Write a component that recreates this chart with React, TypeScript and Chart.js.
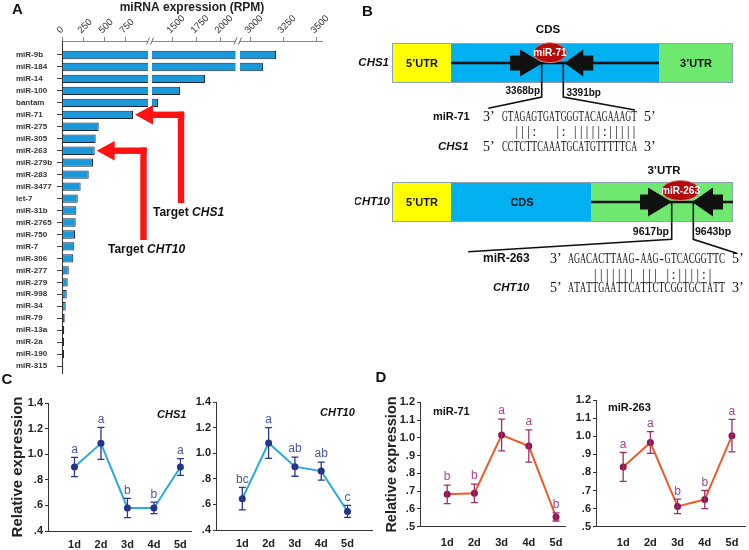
import React, { useEffect, useRef } from 'react';
import { Chart, registerables } from 'chart.js';

Chart.register(...registerables);

const SANS = 'Arial, "Liberation Sans", Helvetica, sans-serif';
const SERIF = '"Times New Roman", "Liberation Serif", serif';

// ---------- Panel A data ----------
const mirnaNames = ['miR-9b', 'miR-184', 'miR-14', 'miR-100', 'bantam', 'miR-71', 'miR-275', 'miR-305', 'miR-263', 'miR-279b', 'miR-283', 'miR-3477', 'let-7', 'miR-31b', 'miR-2765', 'miR-750', 'miR-7', 'miR-306', 'miR-277', 'miR-279', 'miR-998', 'miR-34', 'miR-79', 'miR-13a', 'miR-2a', 'miR-190', 'miR-315'];
const mirnaRPM = [3197, 3098, 1844, 1583, 1354, 845, 437, 401, 389, 369, 318, 222, 187, 170, 163, 155, 146, 134, 80, 68, 56, 44, 32, 27, 24, 24, 15];
const rpmTickValues = [0, 250, 500, 750, 1500, 1750, 2000, 3000, 3250, 3500];
const rpmTickLabels = ['0', '250', '500', '750', '1500', '1750', '2000', '3000', '3250', '3500'];

// ---------- Panel C / D data ----------
const days = ['1d', '2d', '3d', '4d', '5d'];
const chs1Mean = [0.9, 1.085, 0.58, 0.58, 0.9];
const chs1Err = [0.075, 0.125, 0.075, 0.045, 0.065];
const chs1Sig = ['a', 'a', 'b', 'b', 'a'];
const cht10Mean = [0.645, 1.08, 0.895, 0.86, 0.545];
const cht10Err = [0.088, 0.12, 0.075, 0.07, 0.047];
const cht10Sig = ['bc', 'a', 'ab', 'ab', 'c'];
const mir71Mean = [0.682, 0.688, 1.016, 0.954, 0.555];
const mir71Err = [0.052, 0.052, 0.089, 0.091, 0.023];
const mir71Sig = ['b', 'b', 'a', 'a', 'b'];
const mir263Mean = [0.83, 0.965, 0.612, 0.65, 1.003];
const mir263Err = [0.08, 0.06, 0.04, 0.05, 0.09];
const mir263Sig = ['a', 'a', 'b', 'b', 'a'];
const geneTicks = [0.4, 0.6, 0.8, 1.0, 1.2, 1.4];
const geneTickLabels = ['.4', '.6', '.8', '1.0', '1.2', '1.4'];
const mirTicks = [0.5, 0.6, 0.7, 0.8, 0.9, 1.0, 1.1, 1.2];
const mirTickLabels = ['.5', '.6', '.7', '.8', '.9', '1.0', '1.1', '1.2'];

// ---------- Panel B sequences ----------
const mir71Seq = 'GTAGAGTGATGGGTACAGAAAGT';
const chs1Seq = 'CCTCTTCAAATGCATGTTTTTCA';
const pair71 = '  |||:   |: |||||:|||||';
const mir263Seq = 'AGACACTTAAG-AAG-GTCACGGTTC';
const cht10Seq = 'ATATTGAATTCATTCTCGGTGCTATT';
const pair263 = '    ||||||| ||| |:||||:|  ';

// broken axis mapping (RPM -> axis units)
function toAxis(v: number): number {
  if (v <= 1100) return v * 0.084;
  if (v <= 2200) return 110 + (v - 1500) * 0.096;
  return 188 + (v - 3000) * 0.132;
}
const axisBreaks = [[86, 90], [173.5, 178]];

const A_W = 355, A_H = 380;
const B_LEFT = 355, B_W = 394, B_H = 300;
const LINE_TOP = 370, LINE_H = 180;

function txt(ctx: any, s: string, x: number, y: number, font: string, color: string, align: string = 'left') {
  ctx.font = font;
  ctx.fillStyle = color;
  ctx.textAlign = align;
  ctx.textBaseline = 'middle';
  ctx.fillText(s, x, y);
}

const RED = '#ff1212';

const aPlugin = {
  id: 'aDecor',
  afterDatasetsDraw(chart: any) {
    const { ctx, chartArea } = chart;
    const xs = chart.scales.x;
    const ys = chart.scales.y;
    ctx.save();
    for (const [d0, d1] of axisBreaks) {
      const x0 = xs.getPixelForValue(d0);
      const x1 = xs.getPixelForValue(d1);
      ctx.fillStyle = '#ffffff';
      ctx.fillRect(x0, chartArea.top - 4, x1 - x0, chartArea.bottom - chartArea.top + 4);
      ctx.strokeStyle = '#666';
      ctx.lineWidth = 1;
      ctx.beginPath();
      for (const x of [x0, x1]) {
        ctx.moveTo(x - 1.5, chartArea.top + 3.5);
        ctx.lineTo(x + 1.5, chartArea.top - 3.5);
      }
      ctx.stroke();
    }
    const arrows = [
      { name: 'miR-71', vx: 181, vy: 203, gene: 'CHS1', tx: 153, ty: 213 },
      { name: 'miR-263', vx: 143.5, vy: 240, gene: 'CHT10', tx: 108, ty: 250 },
    ];
    for (const a of arrows) {
      const idx = mirnaNames.indexOf(a.name);
      const y = ys.getPixelForValue(idx);
      const tip = xs.getPixelForValue(toAxis(mirnaRPM[idx])) + 2;
      ctx.fillStyle = RED;
      ctx.beginPath();
      ctx.moveTo(tip, y);
      ctx.lineTo(tip + 18, y - 9.7);
      ctx.lineTo(tip + 18, y + 9.7);
      ctx.closePath();
      ctx.fill();
      ctx.fillRect(tip + 17, y - 3.2, a.vx + 3.2 - (tip + 17), 6.4);
      ctx.fillRect(a.vx - 3.2, y - 3.2, 6.4, a.vy - (y - 3.2));
      txt(ctx, 'Target ', a.tx, a.ty, `bold 12px ${SANS}`, '#111');
      const w = ctx.measureText('Target ').width;
      txt(ctx, a.gene, a.tx + w, a.ty, `italic bold 12px ${SANS}`, '#111');
    }
    txt(ctx, 'A', 17.5, 10, `bold 15px ${SANS}`, '#111', 'center');
    ctx.restore();
  },
};

function bigArrow(ctx: any, tipX: number, baseX: number, rectEndX: number, cy: number, triH: number, rectH: number) {
  ctx.beginPath();
  ctx.moveTo(tipX, cy);
  ctx.lineTo(baseX, cy - triH);
  ctx.lineTo(baseX, cy - rectH);
  ctx.lineTo(rectEndX, cy - rectH);
  ctx.lineTo(rectEndX, cy + rectH);
  ctx.lineTo(baseX, cy + rectH);
  ctx.lineTo(baseX, cy + triH);
  ctx.closePath();
  ctx.fill();
}

function seqRow(ctx: any, seq: string, x0: number, cw: number, y: number, font: string, color: string) {
  ctx.font = font;
  ctx.fillStyle = color;
  ctx.textAlign = 'center';
  ctx.textBaseline = 'middle';
  for (let i = 0; i < seq.length; i++) {
    if (seq[i] === ' ') continue;
    ctx.fillText(seq[i], x0 + (i + 0.5) * cw, y, cw);
  }
}

function construct(ctx: any, y0: number, y1: number, segs: [number, number, string][]) {
  for (const [a, b, c] of segs) {
    ctx.fillStyle = c;
    ctx.fillRect(a, y0, b - a, y1 - y0);
  }
  ctx.strokeStyle = '#8ea3b8';
  ctx.lineWidth = 1;
  ctx.strokeRect(segs[0][0] + 0.5, y0 + 0.5, segs[segs.length - 1][1] - segs[0][0] - 1, y1 - y0 - 1);
}

function ellipseLabel(ctx: any, cx: number, cy: number, rx: number, ry: number, s: string) {
  ctx.beginPath();
  ctx.ellipse(cx, cy, rx, ry, 0, 0, Math.PI * 2);
  ctx.fillStyle = '#b30b0b';
  ctx.fill();
  ctx.strokeStyle = '#d98080';
  ctx.lineWidth = 1;
  ctx.stroke();
  txt(ctx, s, cx, cy + 0.5, `bold 10px ${SANS}`, '#ffffff', 'center');
}

function polyline(ctx: any, pts: number[][], w: number) {
  ctx.strokeStyle = '#111';
  ctx.lineWidth = w;
  ctx.beginPath();
  ctx.moveTo(pts[0][0], pts[0][1]);
  for (let i = 1; i < pts.length; i++) ctx.lineTo(pts[i][0], pts[i][1]);
  ctx.stroke();
}

function drawB(ctx: any) {
  const YEL = '#ffff00', BLU = '#00b0f0', GRN = '#6fe86f';
  const INK = '#111';
  txt(ctx, 'B', 367.5, 12, `bold 15px ${SANS}`, INK, 'center');

  // ---- construct 1: CHS1 ----
  txt(ctx, 'CDS', 548, 30, `bold 11.5px ${SANS}`, INK, 'center');
  construct(ctx, 43, 83, [[392, 451, YEL], [451, 659, BLU], [659, 733, GRN]]);
  txt(ctx, 'CHS1', 389, 63, `italic bold 11.5px ${SANS}`, INK, 'right');
  txt(ctx, '5’UTR', 422, 63.5, `bold 11px ${SANS}`, INK, 'center');
  txt(ctx, '3’UTR', 696, 63.5, `bold 11px ${SANS}`, INK, 'center');
  polyline(ctx, [[451, 63], [659, 63]], 2.5);
  ctx.fillStyle = INK;
  bigArrow(ctx, 542.7, 520, 510, 63, 13.5, 7.5);
  bigArrow(ctx, 564.3, 583.3, 593.3, 63, 13.5, 7.5);
  polyline(ctx, [[541.7, 63], [541.7, 97], [488.3, 108.3]], 1.6);
  polyline(ctx, [[563.3, 63], [563.3, 97], [635, 110]], 1.6);
  ellipseLabel(ctx, 550, 52.7, 16.5, 10, 'miR-71');
  txt(ctx, '3368bp', 540, 91, `bold 10px ${SANS}`, INK, 'right');
  txt(ctx, '3391bp', 566.5, 93, `bold 10px ${SANS}`, INK, 'left');

  const cw1 = 135 / mir71Seq.length;
  txt(ctx, 'miR-71', 433, 117, `bold 11px ${SANS}`, INK);
  txt(ctx, '3’', 483, 117, `14px ${SERIF}`, INK);
  seqRow(ctx, mir71Seq, 502, cw1, 117.5, `14px ${SERIF}`, INK);
  txt(ctx, '5’', 644, 117, `14px ${SERIF}`, INK);
  seqRow(ctx, pair71, 502, cw1, 132.5, `15px ${SERIF}`, '#333');
  txt(ctx, 'CHS1', 438, 147, `italic bold 11.5px ${SANS}`, INK);
  txt(ctx, '5’', 483, 147, `14px ${SERIF}`, INK);
  seqRow(ctx, chs1Seq, 502, cw1, 147.5, `14px ${SERIF}`, INK);
  txt(ctx, '3’', 644, 147, `14px ${SERIF}`, INK);

  // ---- construct 2: CHT10 ----
  txt(ctx, '3’UTR', 664, 171, `bold 11.5px ${SANS}`, INK, 'center');
  construct(ctx, 182, 222, [[392, 451, YEL], [451, 591, BLU], [591, 733, GRN]]);
  txt(ctx, 'CHT10', 390, 202, `italic bold 11.5px ${SANS}`, INK, 'right');
  txt(ctx, '5’UTR', 422, 202.5, `bold 11px ${SANS}`, INK, 'center');
  txt(ctx, 'CDS', 522, 202.5, `bold 11px ${SANS}`, INK, 'center');
  polyline(ctx, [[591, 202], [733, 202]], 2.5);
  ctx.fillStyle = INK;
  bigArrow(ctx, 672, 648, 640, 202, 14.5, 7.5);
  bigArrow(ctx, 692, 713, 723, 202, 14.5, 7.5);
  polyline(ctx, [[671.7, 202], [671.7, 239.3], [468.3, 251.7]], 1.6);
  polyline(ctx, [[693.3, 202], [693.3, 239.3], [736.7, 253.3]], 1.6);
  ellipseLabel(ctx, 680.5, 190.5, 19, 10, 'miR-263');
  txt(ctx, '9617bp', 669, 232, `bold 10.5px ${SANS}`, INK, 'right');
  txt(ctx, '9643bp', 695, 232, `bold 10.5px ${SANS}`, INK, 'left');

  const cw2 = 157 / mir263Seq.length;
  txt(ctx, 'miR-263', 483, 259, `bold 12px ${SANS}`, INK);
  txt(ctx, '3’', 550, 259, `14px ${SERIF}`, INK);
  seqRow(ctx, mir263Seq, 568, cw2, 259.5, `14px ${SERIF}`, INK);
  txt(ctx, '5’', 732, 259, `14px ${SERIF}`, INK);
  seqRow(ctx, pair263, 568, cw2, 275.5, `15px ${SERIF}`, '#333');
  txt(ctx, 'CHT10', 493, 288, `italic bold 11.5px ${SANS}`, INK);
  txt(ctx, '5’', 550, 288, `14px ${SERIF}`, INK);
  seqRow(ctx, cht10Seq, 568, cw2, 288.5, `14px ${SERIF}`, INK);
  txt(ctx, '3’', 732, 288, `14px ${SERIF}`, INK);
}

const bPlugin = {
  id: 'bDiagram',
  afterDraw(chart: any) {
    const ctx = chart.ctx;
    ctx.save();
    ctx.translate(-B_LEFT, 0);
    drawB(ctx);
    ctx.restore();
  },
};

type LineSpec = {
  left: number; width: number;
  mean: number[]; err: number[]; sig: string[];
  yMin: number; yMax: number; yTicks: number[]; yTickLabels: string[];
  xMax: number; padTop: number; padRight: number; yWidth: number; xHeight: number; xTickPad: number;
  title?: string; titlePad?: number; titleSize?: number;
  tag: string; tagItalic: boolean; tagX: number; tagY: number;
  panel?: string; panelX?: number; panelY?: number;
  lineColor: string; pointColor: string; errColor: string; sigColor: string;
};

const lineSpecs: LineSpec[] = [
  {
    left: 0, width: 196, mean: chs1Mean, err: chs1Err, sig: chs1Sig,
    yMin: 0.4, yMax: 1.4, yTicks: geneTicks, yTickLabels: geneTickLabels,
    xMax: 5.4, padTop: 33, padRight: 5, yWidth: 48, xHeight: 19, xTickPad: 7.5,
    title: 'Relative expression', titlePad: 9, titleSize: 15,
    tag: 'CHS1', tagItalic: true, tagX: 157, tagY: 415,
    panel: 'C', panelX: 7, panelY: 380,
    lineColor: '#2aa8e0', pointColor: '#26318a', errColor: '#2c3590', sigColor: '#4b55a5',
  },
  {
    left: 196, width: 180, mean: cht10Mean, err: cht10Err, sig: cht10Sig,
    yMin: 0.4, yMax: 1.4, yTicks: geneTicks, yTickLabels: geneTickLabels,
    xMax: 5.93, padTop: 32, padRight: 4, yWidth: 20, xHeight: 20, xTickPad: 7.5,
    tag: 'CHT10', tagItalic: true, tagX: 320, tagY: 413,
    lineColor: '#2aa8e0', pointColor: '#26318a', errColor: '#2c3590', sigColor: '#4b55a5',
  },
  {
    left: 376, width: 194, mean: mir71Mean, err: mir71Err, sig: mir71Sig,
    yMin: 0.5, yMax: 1.2, yTicks: mirTicks, yTickLabels: mirTickLabels,
    xMax: 5.33, padTop: 32.3, padRight: 5, yWidth: 44, xHeight: 23.3, xTickPad: 9.4,
    title: 'Relative expression', titlePad: 7, titleSize: 14.5,
    tag: 'miR-71', tagItalic: false, tagX: 433, tagY: 412,
    panel: 'D', panelX: 381, panelY: 378,
    lineColor: '#ee5b2b', pointColor: '#8f1650', errColor: '#9c2f6e', sigColor: '#a8458f',
  },
  {
    left: 570, width: 179, mean: mir263Mean, err: mir263Err, sig: mir263Sig,
    yMin: 0.5, yMax: 1.2, yTicks: mirTicks, yTickLabels: mirTickLabels,
    xMax: 5.48, padTop: 30, padRight: 0, yWidth: 26, xHeight: 23.3, xTickPad: 9.4,
    tag: 'miR-263', tagItalic: false, tagX: 608, tagY: 408,
    lineColor: '#ee5b2b', pointColor: '#8f1650', errColor: '#9c2f6e', sigColor: '#a8458f',
  },
];

function lineConfig(s: LineSpec): any {
  const overlay = {
    id: 'lineOverlay',
    afterDatasetsDraw(chart: any) {
      const { ctx } = chart;
      const xs = chart.scales.x;
      const ys = chart.scales.y;
      ctx.save();
      ctx.strokeStyle = s.errColor;
      ctx.lineWidth = 1.3;
      s.mean.forEach((m, i) => {
        const x = xs.getPixelForValue(i + 1);
        const yt = ys.getPixelForValue(m + s.err[i]);
        const yb = ys.getPixelForValue(m - s.err[i]);
        ctx.beginPath();
        ctx.moveTo(x, yt); ctx.lineTo(x, yb);
        ctx.moveTo(x - 3.5, yt); ctx.lineTo(x + 3.5, yt);
        ctx.moveTo(x - 3.5, yb); ctx.lineTo(x + 3.5, yb);
        ctx.stroke();
        txt(ctx, s.sig[i], x, yt - 8, `12px ${SANS}`, s.sigColor, 'center');
      });
      ctx.translate(-s.left, -LINE_TOP);
      txt(ctx, s.tag, s.tagX, s.tagY, `${s.tagItalic ? 'italic ' : ''}bold 11px ${SANS}`, '#111');
      if (s.panel) txt(ctx, s.panel, s.panelX!, s.panelY!, `bold 15px ${SANS}`, '#111', 'center');
      ctx.restore();
    },
  };
  return {
    type: 'line',
    data: {
      datasets: [{
        data: s.mean.map((v, i) => ({ x: i + 1, y: v })),
        borderColor: s.lineColor,
        borderWidth: 2,
        pointRadius: 3.5,
        pointBackgroundColor: s.pointColor,
        pointBorderColor: s.pointColor,
        pointBorderWidth: 0,
        tension: 0,
        fill: false,
      }],
    },
    options: {
      animation: false,
      responsive: false,
      events: [],
      layout: { padding: { top: s.padTop, right: s.padRight, left: 0, bottom: 0 } },
      plugins: { legend: { display: false }, tooltip: { enabled: false } },
      scales: {
        x: {
          type: 'linear',
          min: 0,
          max: s.xMax,
          offset: false,
          afterBuildTicks: (axis: any) => { axis.ticks = days.map((_, i) => ({ value: i + 1 })); },
          afterFit: (axis: any) => { axis.height = s.xHeight; axis.paddingLeft = 0; axis.paddingRight = 0; },
          ticks: {
            callback: (_v: any, i: number) => days[i],
            font: { family: SANS, size: 11, weight: 'bold' },
            color: '#222',
            padding: s.xTickPad,
            maxRotation: 0,
            autoSkip: false,
          },
          grid: { display: false, drawTicks: false },
          border: { display: true, color: '#333', width: 1 },
        },
        y: {
          type: 'linear',
          min: s.yMin,
          max: s.yMax,
          afterBuildTicks: (axis: any) => { axis.ticks = s.yTicks.map((v) => ({ value: v })); },
          afterFit: (axis: any) => { axis.width = s.yWidth; axis.paddingTop = 0; axis.paddingBottom = 0; },
          ticks: {
            callback: (_v: any, i: number) => s.yTickLabels[i],
            font: { family: SANS, size: 11, weight: 'bold' },
            color: '#222',
            padding: 2,
            autoSkip: false,
          },
          grid: { display: true, drawOnChartArea: false, drawTicks: true, tickLength: 3, color: '#333' },
          border: { display: true, color: '#333', width: 1 },
          title: s.title ? {
            display: true,
            text: s.title,
            font: { family: SANS, size: s.titleSize, weight: 'bold' },
            color: '#222',
            padding: { top: s.titlePad, bottom: 0 },
          } : { display: false },
        },
      },
    },
    plugins: [overlay],
  };
}

function barConfig(): any {
  return {
    type: 'bar',
    data: {
      datasets: [{
        data: mirnaRPM.map((v, i) => ({ x: toAxis(v), y: i })),
        backgroundColor: '#1a98da',
        borderColor: '#1b2838',
        borderWidth: 1,
        borderSkipped: false,
        barPercentage: 0.7,
        categoryPercentage: 1,
      }],
    },
    options: {
      indexAxis: 'y',
      animation: false,
      responsive: false,
      events: [],
      layout: { padding: { left: 16, right: A_W - 322, top: 0, bottom: A_H - 373 } },
      plugins: { legend: { display: false }, tooltip: { enabled: false } },
      scales: {
        x: {
          type: 'linear',
          position: 'top',
          min: 0,
          max: 260,
          offset: false,
          afterBuildTicks: (axis: any) => { axis.ticks = rpmTickValues.map((v) => ({ value: toAxis(v) })); },
          afterFit: (axis: any) => { axis.height = 41; axis.paddingLeft = 0; axis.paddingRight = 0; axis.paddingTop = 0; axis.paddingBottom = 0; },
          ticks: {
            callback: (_v: any, i: number) => rpmTickLabels[i],
            font: { family: SANS, size: 9.5 },
            color: '#333',
            padding: 1,
            labelOffset: 4.5,
            minRotation: 45,
            maxRotation: 45,
            autoSkip: false,
          },
          grid: { display: true, drawOnChartArea: false, drawTicks: true, tickLength: 4, color: '#888', offset: false },
          border: { display: true, color: '#888', width: 1 },
          title: {
            display: true,
            text: 'miRNA expression (RPM)',
            font: { family: SANS, size: 12, weight: 'bold' },
            color: '#222',
            padding: { top: 0, bottom: 0 },
          },
        },
        y: {
          type: 'linear',
          reverse: true,
          min: -1.17,
          max: 26.58,
          offset: false,
          afterBuildTicks: (axis: any) => { axis.ticks = mirnaNames.map((_, i) => ({ value: i })); },
          afterFit: (axis: any) => { axis.width = 46; axis.paddingTop = 0; axis.paddingBottom = 0; axis.paddingLeft = 0; axis.paddingRight = 0; },
          ticks: {
            callback: (_v: any, i: number) => mirnaNames[i],
            font: { family: SANS, size: 8, weight: 'bold' },
            color: '#333',
            crossAlign: 'far',
            autoSkip: false,
          },
          grid: { display: true, drawOnChartArea: false, drawTicks: true, tickLength: 5, color: '#444', offset: false },
          border: { display: true, color: '#333', width: 1 },
        },
      },
    },
    plugins: [aPlugin],
  };
}

function diagramConfig(): any {
  return {
    type: 'scatter',
    data: { datasets: [] },
    options: {
      animation: false,
      responsive: false,
      events: [],
      plugins: { legend: { display: false }, tooltip: { enabled: false } },
      scales: { x: { display: false }, y: { display: false } },
    },
    plugins: [bPlugin],
  };
}

export default function App() {
  const aRef = useRef<HTMLCanvasElement | null>(null);
  const bRef = useRef<HTMLCanvasElement | null>(null);
  const lineRefs = useRef<(HTMLCanvasElement | null)[]>([]);

  useEffect(() => {
    const charts: Chart[] = [];
    if (aRef.current) charts.push(new Chart(aRef.current, barConfig()));
    if (bRef.current) charts.push(new Chart(bRef.current, diagramConfig()));
    lineSpecs.forEach((s, i) => {
      const c = lineRefs.current[i];
      if (c) charts.push(new Chart(c, lineConfig(s)));
    });
    return () => { charts.forEach((c) => c.destroy()); };
  }, []);

  const abs = (left: number, top: number, w: number, h: number): React.CSSProperties => ({
    position: 'absolute', left, top, width: w, height: h, display: 'block',
  });

  return (
    <div style={{ position: 'absolute', left: 0, top: 0, width: 749, height: 550, background: '#ffffff', overflow: 'hidden' }}>
      <canvas ref={aRef} width={A_W} height={A_H} style={abs(0, 0, A_W, A_H)} />
      <canvas ref={bRef} width={B_W} height={B_H} style={abs(B_LEFT, 0, B_W, B_H)} />
      {lineSpecs.map((s, i) => (
        <canvas
          key={i}
          ref={(el) => { lineRefs.current[i] = el; }}
          width={s.width}
          height={LINE_H}
          style={abs(s.left, LINE_TOP, s.width, LINE_H)}
        />
      ))}
    </div>
  );
}
